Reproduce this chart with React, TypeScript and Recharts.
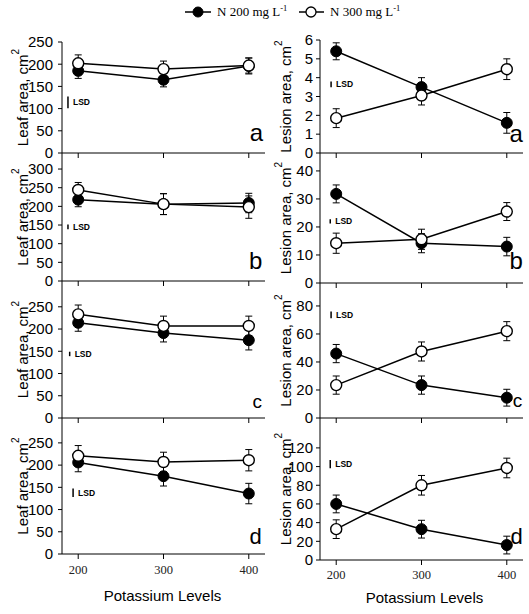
import { LineChart, Line, XAxis, YAxis, ErrorBar, ReferenceLine, ReferenceDot } from 'recharts';

// potassium levels (x)
const potassium = [200, 300, 400];

// leaf area, cm2 — one row per panel (a..d)
const leafN200 = [[185, 165, 196], [218, 206, 209], [214, 191, 175], [206, 175, 136]];
const leafN300 = [[202, 189, 197], [244, 206, 198], [233, 207, 207], [221, 207, 211]];
const leafErr200 = [[17, 16, 18], [19, 28, 26], [19, 20, 22], [21, 22, 23]];
const leafErr300 = [[19, 18, 17], [20, 28, 30], [21, 22, 22], [23, 22, 24]];
const leafLsd = [26, 13, 10, 19];
const leafTicks = [
  [0, 50, 100, 150, 200, 250],
  [0, 50, 100, 150, 200, 250, 300],
  [0, 50, 100, 150, 200, 250],
  [0, 50, 100, 150, 200, 250],
];

// lesion area, cm2
const lesionN200 = [[5.4, 3.5, 1.6], [31.8, 14.2, 13], [46, 23.5, 14.5], [60, 33, 16]];
const lesionN300 = [[1.85, 3.05, 4.45], [14.2, 15.6, 25.5], [23.5, 47.5, 62], [33, 80, 98.5]];
const lesionErr200 = [[0.45, 0.5, 0.55], [3.2, 3.4, 3.3], [6.5, 6.5, 6], [9.5, 9.5, 9.5]];
const lesionErr300 = [[0.5, 0.5, 0.55], [3.6, 3.6, 3.2], [6.5, 6.8, 6.8], [10, 10.5, 10.5]];
const lesionLsd = [0.3, 1.5, 4.8, 8.9];
const lesionTicks = [
  [0, 1, 2, 3, 4, 5, 6],
  [0, 10, 20, 30, 40],
  [0, 20, 40, 60, 80],
  [0, 20, 40, 60, 80, 100, 120],
];

const letters = ['a', 'b', 'c', 'd'];

const SANS = "'Liberation Sans Narrow', 'Liberation Sans', Arial, sans-serif";
const SERIF = "'Liberation Serif', 'Times New Roman', serif";
const PLOT_W = 203;
const MT = 10;

// layout of the stacked panels (page pixels) and annotation anchors (data units)
const leftLayout = [
  { top: 42, bottom: 153, max: 250, lsdX: 188, lsdY: 114, letX: 409, letY: 46, letSize: 24 },
  { top: 153, bottom: 281, max: 343, lsdX: 188, lsdY: 145, letX: 408, letY: 54, letSize: 24 },
  { top: 281, bottom: 418, max: 308, lsdX: 190, lsdY: 144, letX: 410, letY: 38, letSize: 19 },
  { top: 418, bottom: 554, max: 306, lsdX: 194, lsdY: 138, letX: 408, letY: 40, letSize: 22 },
];
const rightLayout = [
  { top: 40, bottom: 153, max: 6, lsdX: 194, lsdY: 3.64, letX: 411, letY: 1.06, letSize: 24 },
  { top: 153, bottom: 283, max: 46.4, lsdX: 193, lsdY: 22, letX: 411, letY: 8.2, letSize: 24 },
  { top: 283, bottom: 418, max: 96.4, lsdX: 194, lsdY: 73.6, letX: 412.6, letY: 12.5, letSize: 19 },
  { top: 418, bottom: 560, max: 152, lsdX: 193, lsdY: 102.7, letX: 411.4, letY: 25, letSize: 22 },
];

function Panel(p: any) {
  const rows = potassium.map((k, i) => ({
    k, n200: p.n200[i], n300: p.n300[i], e200: p.e200[i], e300: p.e300[i],
  }));
  const L = p.layout;
  const plotH = L.bottom - L.top;
  const xh = p.last ? 50 : 10;
  const height = MT + plotH + xh;
  const width = p.yWidth + PLOT_W + p.right;
  const cy = MT + plotH / 2;

  const yTitle = () => (
    <text
      x={p.titleX} y={cy} transform={`rotate(-90 ${p.titleX} ${cy})`}
      textAnchor="middle" dominantBaseline="central" fontFamily={SANS} fontSize={15} fill="#000"
    >
      {p.title}<tspan dy={-7} fontSize={10}>2</tspan>
    </text>
  );
  const xTitle = () => (
    <text
      x={p.yWidth + PLOT_W / 2 + p.xTitleDx} y={MT + plotH + p.xTitleDy}
      textAnchor="middle" dominantBaseline="central" fontFamily={SANS} fontSize={15} fill="#000"
    >
      Potassium Levels
    </text>
  );

  return (
    <div style={{ position: 'absolute', left: p.left, top: L.top - MT }}>
      <LineChart width={width} height={height} data={rows} margin={{ top: MT, right: p.right, left: 0, bottom: 0 }}>
        <XAxis
          type="number" dataKey="k" domain={[181, 419]} ticks={potassium} allowDataOverflow
          height={xh} tickSize={5} tickMargin={p.last ? p.xTickMargin : 0}
          axisLine={{ stroke: '#000' }} tickLine={{ stroke: '#000' }}
          tick={{ fontSize: 12.5, fontFamily: SERIF, fill: '#222' }}
          tickFormatter={p.last ? (v: number) => String(v) : () => ''}
          label={p.last ? { content: xTitle } : undefined}
        />
        <YAxis
          type="number" domain={[0, L.max]} ticks={p.ticks} allowDataOverflow interval={0}
          width={p.yWidth} tickSize={4} tickMargin={p.yTickMargin}
          axisLine={{ stroke: '#000' }} tickLine={{ stroke: '#000' }}
          tick={{ fontSize: 15, fontFamily: SANS, fill: '#000' }}
          label={{ content: yTitle }}
        />
        <ReferenceLine
          segment={[{ x: L.lsdX, y: L.lsdY - p.lsd / 2 }, { x: L.lsdX, y: L.lsdY + p.lsd / 2 }]}
          stroke="#000" strokeWidth={1.5}
          label={{ value: 'LSD', position: 'right', offset: 5, fontSize: 8.5, fontWeight: 700, fontFamily: "'Liberation Sans', Arial, sans-serif", fill: '#000' }}
        />
        <ReferenceDot
          x={L.letX} y={L.letY} r={0} fill="none" stroke="none"
          label={{ value: p.letter, position: 'center', fontSize: L.letSize, fontFamily: SANS, fill: '#000' }}
        />
        <Line
          type="linear" dataKey="n200" stroke="#000" strokeWidth={1.5} isAnimationActive={false}
          dot={{ r: 5.5, fill: '#000', stroke: '#000', strokeWidth: 1 }} activeDot={false}
        >
          <ErrorBar dataKey="e200" width={3.5} stroke="#000" strokeWidth={1} direction="y" isAnimationActive={false} />
        </Line>
        <Line
          type="linear" dataKey="n300" stroke="#000" strokeWidth={1.5} isAnimationActive={false}
          dot={{ r: 5.5, fill: '#fff', stroke: '#000', strokeWidth: 1.4 }} activeDot={false}
        >
          <ErrorBar dataKey="e300" width={3.5} stroke="#000" strokeWidth={1} direction="y" isAnimationActive={false} />
        </Line>
      </LineChart>
    </div>
  );
}

function LegendBar() {
  return (
    <svg width={529} height={26} style={{ position: 'absolute', left: 0, top: 0 }}>
      <line x1={185} y1={12} x2={211} y2={12} stroke="#000" strokeWidth={1.5} />
      <circle cx={198} cy={12} r={5} fill="#000" stroke="#000" />
      <text x={217} y={16} fontFamily={SERIF} fontSize={13} fill="#000">
        N 200 mg L<tspan dy={-5} fontSize={8.5}>-1</tspan>
      </text>
      <line x1={299} y1={12} x2={324} y2={12} stroke="#000" strokeWidth={1.5} />
      <circle cx={311} cy={12} r={5} fill="#fff" stroke="#000" strokeWidth={1.3} />
      <text x={330} y={16} fontFamily={SERIF} fontSize={13} fill="#000">
        N 300 mg L<tspan dy={-5} fontSize={8.5}>-1</tspan>
      </text>
    </svg>
  );
}

export default function App() {
  return (
    <div style={{ position: 'absolute', left: 0, top: 0, width: 529, height: 614, background: '#fff', fontFamily: SANS }}>
      <LegendBar />
      {letters.map((letter, i) => (
        <Panel
          key={'leaf' + letter}
          left={0} yWidth={62} right={5} titleX={22} yTickMargin={5}
          xTickMargin={6} xTitleDx={-1} xTitleDy={41}
          title="Leaf area, cm" letter={letter} layout={leftLayout[i]} ticks={leafTicks[i]}
          n200={leafN200[i]} n300={leafN300[i]} e200={leafErr200[i]} e300={leafErr300[i]}
          lsd={leafLsd[i]} last={i === 3}
        />
      ))}
      {letters.map((letter, i) => (
        <Panel
          key={'lesion' + letter}
          left={265} yWidth={55} right={6} titleX={20} yTickMargin={3}
          xTickMargin={5} xTitleDx={3} xTitleDy={37}
          title="Lesion area, cm" letter={letter} layout={rightLayout[i]} ticks={lesionTicks[i]}
          n200={lesionN200[i]} n300={lesionN300[i]} e200={lesionErr200[i]} e300={lesionErr300[i]}
          lsd={lesionLsd[i]} last={i === 3}
        />
      ))}
    </div>
  );
}
